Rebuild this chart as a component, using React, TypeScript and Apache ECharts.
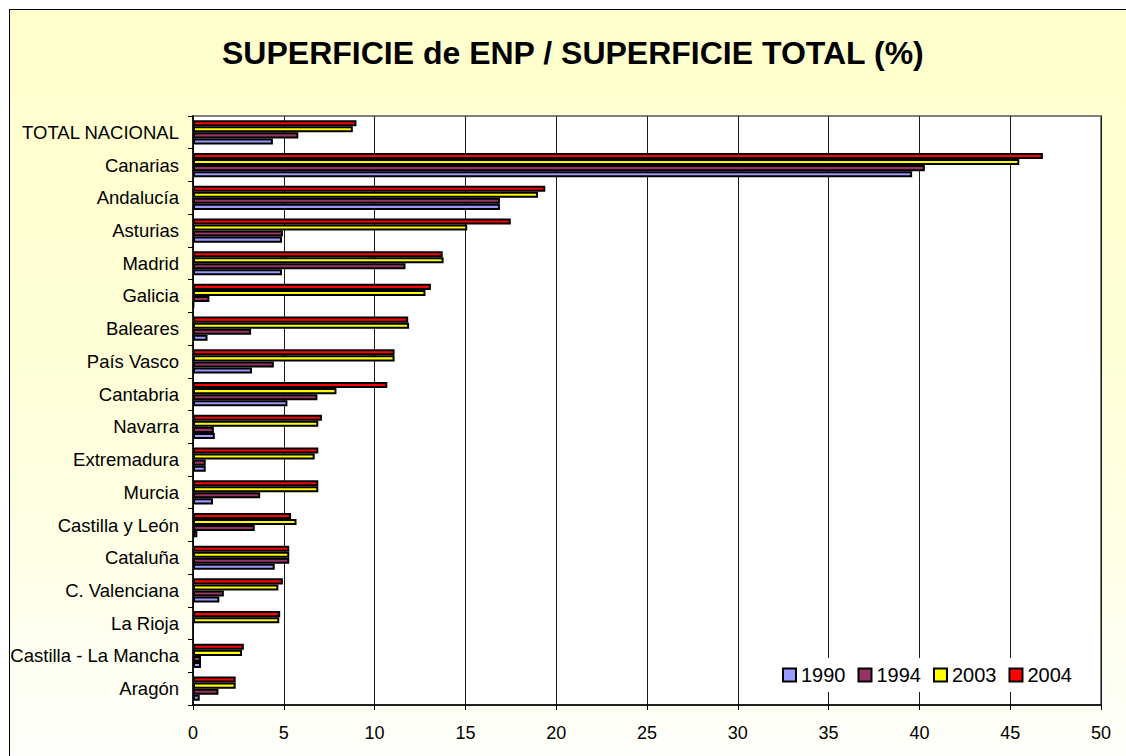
import React, { useEffect, useRef } from "react";
import * as echarts from "echarts";

// Categories listed top to bottom as in the picture
const regions = [
  "TOTAL NACIONAL",
  "Canarias",
  "Andalucía",
  "Asturias",
  "Madrid",
  "Galicia",
  "Baleares",
  "País Vasco",
  "Cantabria",
  "Navarra",
  "Extremadura",
  "Murcia",
  "Castilla y León",
  "Cataluña",
  "C. Valenciana",
  "La Rioja",
  "Castilla - La Mancha",
  "Aragón",
];

const v1990 = [4.4, 39.6, 16.9, 4.9, 4.9, 0.05, 0.8, 3.25, 5.2, 1.2, 0.7, 1.1, 0.24, 4.5, 1.45, null, 0.44, 0.37];
const v1994 = [5.8, 40.3, 16.9, 4.95, 11.7, 0.9, 3.2, 4.45, 6.85, 1.15, 0.7, 3.7, 3.4, 5.3, 1.7, null, 0.44, 1.4];
const v2003 = [8.8, 45.5, 19.0, 15.1, 13.8, 12.8, 11.9, 11.1, 7.9, 6.9, 6.7, 6.9, 5.7, 5.3, 4.7, 4.75, 2.7, 2.35];
const v2004 = [9.0, 46.8, 19.4, 17.5, 13.75, 13.1, 11.85, 11.1, 10.7, 7.1, 6.9, 6.9, 5.4, 5.3, 4.95, 4.8, 2.8, 2.35];

const seriesNames = ["1990", "1994", "2003", "2004"];
const seriesColors = ["#9999FF", "#993366", "#FFFF00", "#FF0000"];
const seriesValues = [v1990, v1994, v2003, v2004];

const xTicks = { min: 0, max: 50, interval: 5 };

const FONT = "Liberation Sans, Arial, sans-serif";

export default function App() {
  const ref = useRef<HTMLDivElement>(null);

  useEffect(() => {
    if (!ref.current) return;
    const chart = echarts.init(ref.current, undefined, { renderer: "svg" });
    // ECharts draws category axis from bottom; reverse so first listed is on top
    const cats = [...regions].reverse();
    // Series in reverse order so that 2004 sits on top of each group
    const order = [3, 2, 1, 0];
    const option = {
      animation: false,
      backgroundColor: "transparent",
      title: {
        text: "SUPERFICIE de ENP / SUPERFICIE TOTAL (%)",
        left: 222,
        top: 37,
        padding: 0,
        textStyle: {
          fontFamily: FONT,
          fontSize: 32,
          fontWeight: "bold",
          color: "#000",
        },
      },
      legend: {
        data: seriesNames,
        left: 776,
        top: 658,
        padding: [7, 6],
        backgroundColor: "#fff",
        icon: "rect",
        itemWidth: 13,
        itemHeight: 13,
        itemGap: 12,
        textStyle: { fontFamily: FONT, fontSize: 20, color: "#000" },
      },
      grid: {
        left: 193,
        right: 25,
        top: 116,
        bottom: 51,
        show: true,
        backgroundColor: "#fff",
        borderColor: "#808080",
        borderWidth: 2,
      },
      xAxis: {
        type: "value",
        min: xTicks.min,
        max: xTicks.max,
        interval: xTicks.interval,
        axisLine: { show: true, lineStyle: { color: "#000", width: 1.5 } },
        axisTick: { show: true, inside: false, length: 5, lineStyle: { color: "#000" } },
        axisLabel: { fontFamily: FONT, fontSize: 18, color: "#000", margin: 19 },
        splitLine: { show: true, lineStyle: { color: "#1a1a1a", width: 1 } },
      },
      yAxis: {
        type: "category",
        data: cats,
        axisLine: { show: true, lineStyle: { color: "#000", width: 1.5 } },
        axisTick: { show: true, inside: false, length: 5, lineStyle: { color: "#000" } },
        axisLabel: { fontFamily: FONT, fontSize: 18.5, color: "#000", margin: 14 },
        splitLine: { show: false },
      },
      series: order.map((i) => ({
        name: seriesNames[i],
        type: "bar",
        data: [...seriesValues[i]].reverse(),
        barGap: "0%",
        barCategoryGap: "26%",
        itemStyle: {
          color: seriesColors[i],
          borderColor: "#000",
          borderWidth: 2,
        },
      })),
    };
    chart.setOption(option as any);
    return () => chart.dispose();
  }, []);

  return (
    <div style={{ position: "fixed", left: 0, top: 0, width: 1126, height: 756, background: "#fff", overflow: "hidden" }}>
      <div
        style={{
          position: "absolute",
          left: 9,
          top: 9,
          width: 1130,
          height: 760,
          boxSizing: "border-box",
          border: "1.5px solid #000",
          background: "linear-gradient(to bottom, #FFFFCC 0%, #FFFFD6 45%, #FFFFF0 85%, #FFFFFC 100%)",
        }}
      />
      <div ref={ref} style={{ position: "absolute", left: 0, top: 0, width: 1126, height: 756 }} />
    </div>
  );
}
